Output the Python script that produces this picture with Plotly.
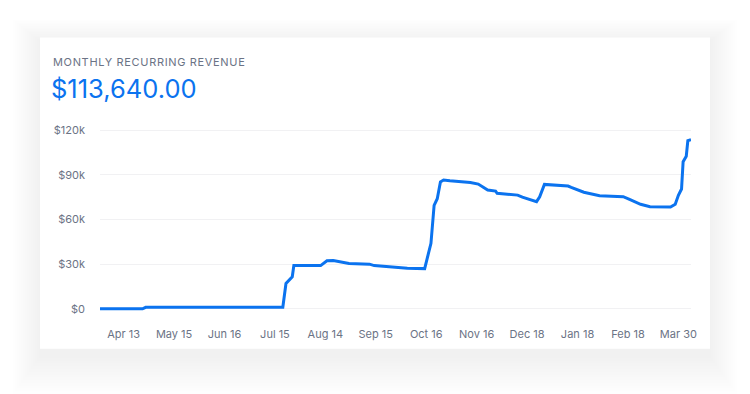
import plotly.graph_objects as go

# Monthly recurring revenue, one point per change in the running total
day_index = [0, 27, 29, 60, 90, 116, 118, 122, 123, 140, 144, 148, 158, 171, 174,
             184, 195, 206, 208, 210, 212, 214, 216, 218, 222, 235, 240, 246, 251,
             252, 265, 268, 277, 279, 282, 288, 297, 299, 307, 317, 332, 336, 343,
             349, 362, 365, 367, 369, 370, 372, 373, 375]
mrr = [0, 0, 1000, 1100, 1000, 1000, 17000, 21500, 29000, 29000, 32300, 32400,
       30500, 30000, 29000, 28200, 27300, 27000, 36000, 44000, 69500, 74000,
       85300, 86500, 86000, 84800, 83800, 79800, 79100, 77600, 76400, 75000,
       72000, 75300, 83600, 83100, 82500, 81600, 78300, 76000, 75300, 73500,
       70200, 68600, 68400, 70200, 76300, 80500, 98800, 102500, 113000, 113640]

x_tick_index = [15, 47, 79, 111, 143, 175, 207, 239, 271, 303, 335, 367]
x_tick_labels = ["Apr 13", "May 15", "Jun 16", "Jul 15", "Aug 14", "Sep 15",
                 "Oct 16", "Nov 16", "Dec 18", "Jan 18", "Feb 18", "Mar 30"]
y_tick_values = [0, 30000, 60000, 90000, 120000]
y_tick_labels = ["$0", "$30k", "$60k", "$90k", "$120k"]

card_title = "MONTHLY RECURRING REVENUE"
current_mrr = mrr[-1]

BLUE = "#0b73ef"
GREY = "#6b7385"
FONT = "Inter, Roboto, sans-serif"

W, H = 750, 394
ML, MR, MT, MB = 100, 59, 127.76, 82.77
PW = W - ML - MR
PH = H - MT - MB


def px_x(px):
    return (px - ML) / PW


def px_y(py):
    return (H - MB - py) / PH


fig = go.Figure()
fig.add_trace(go.Scatter(
    x=day_index, y=mrr, mode="lines",
    line=dict(color=BLUE, width=3), hoverinfo="skip",
))

shapes = []
# soft drop shadow under the card, built from stacked faint rectangles
card = (40, 37, 710, 349)
layers = 14
for i in range(layers):
    spread = 1.5 + i * 2.0
    dy = 8 + i * 0.8
    shapes.append(dict(
        type="rect", xref="paper", yref="paper", layer="below",
        x0=px_x(card[0] - spread), x1=px_x(card[2] + spread),
        y0=px_y(card[3] + spread + dy), y1=px_y(card[1] - spread + dy * 0.5),
        fillcolor="rgb(40,40,60)", opacity=0.004, line=dict(width=0),
    ))
shapes.append(dict(
    type="rect", xref="paper", yref="paper", layer="below",
    x0=px_x(card[0]), x1=px_x(card[2]), y0=px_y(card[3]), y1=px_y(card[1]),
    fillcolor="white", line=dict(width=0),
))

annotations = [
    dict(text=f'<span style="letter-spacing:0.66px">{card_title}</span>',
         xref="paper", yref="paper", x=px_x(51), y=px_y(61.5),
         xanchor="left", yanchor="middle", showarrow=False,
         font=dict(family=FONT, size=11, color=GREY)),
    dict(text=f"${current_mrr:,.2f}", xref="paper", yref="paper", x=px_x(48.5), y=px_y(88.5),
         xanchor="left", yanchor="middle", showarrow=False,
         font=dict(family=FONT, size=25.5, color=BLUE)),
]

fig.update_layout(
    width=W, height=H,
    margin=dict(l=ML, r=MR, t=MT, b=MB, pad=0),
    paper_bgcolor="white", plot_bgcolor="rgba(0,0,0,0)",
    showlegend=False, shapes=shapes, annotations=annotations,
    font=dict(family=FONT, size=11, color=GREY),
)
fig.update_xaxes(
    range=[0, 375], tickvals=x_tick_index, ticktext=x_tick_labels,
    showgrid=False, zeroline=False, showline=False, ticks="",
    ticklabelstandoff=15, fixedrange=True,
)
fig.update_yaxes(
    range=[-1500, 121500], tickvals=y_tick_values, ticktext=y_tick_labels,
    showgrid=True, gridcolor="#f1f1f3", gridwidth=1, zeroline=False,
    showline=False, ticks="", ticklabelstandoff=14, fixedrange=True,
)

fig.write_html("out.html", config={"displayModeBar": False})
